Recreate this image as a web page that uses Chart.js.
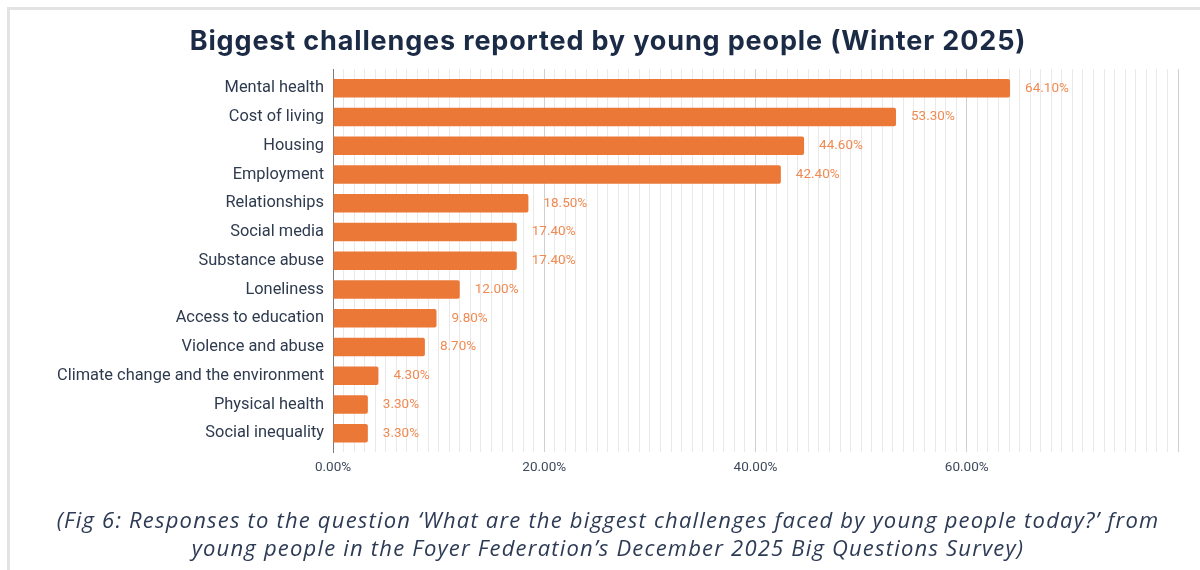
<!DOCTYPE html>
<html lang="en">

<head>
  <meta charset="UTF-8">
  <title>Biggest challenges reported by young people (Winter 2025)</title>
  <script src="https://cdn.jsdelivr.net/npm/chart.js"></script>
  <style>
    html,
    body {
      margin: 0;
      padding: 0;
      width: 1200px;
      height: 570px;
      overflow: hidden;
      background: #fff;
    }

    .frame {
      position: absolute;
      left: 7px;
      top: 7px;
      width: 1300px;
      height: 700px;
      border: 3px solid #e3e3e3;
    }

    .title {
      position: absolute;
      left: 0;
      width: 1216px;
      top: 23px;
      text-align: center;
      font-family: "Inter", sans-serif;
      font-weight: 700;
      font-size: 27px;
      letter-spacing: 0.85px;
      color: #1b2a45;
      line-height: 36px;
    }

    .caption {
      position: absolute;
      left: 0;
      width: 1216px;
      top: 505px;
      text-align: center;
      font-family: "Open Sans", sans-serif;
      font-style: italic;
      font-size: 22px;
      letter-spacing: 1.2px;
      line-height: 28px;
      color: #2d3b55;
    }

    #chartBox {
      position: absolute;
      left: 0;
      top: 0;
      width: 1200px;
      height: 570px;
    }
  </style>
</head>

<body>
  <div class="frame"></div>
  <div id="chartBox">
    <canvas id="challengesChart" width="1200" height="570"></canvas>
  </div>
  <div class="title">Biggest challenges reported by young people (Winter 2025)</div>
  <div class="caption">(Fig 6: Responses to the question ‘What are the biggest challenges faced by young people today?’ from<br>young people in the Foyer Federation’s December 2025 Big Questions Survey)</div>

  <script>
    // Survey answers, share of respondents (%)
    const challenges = [
      'Mental health',
      'Cost of living',
      'Housing',
      'Employment',
      'Relationships',
      'Social media',
      'Substance abuse',
      'Loneliness',
      'Access to education',
      'Violence and abuse',
      'Climate change and the environment',
      'Physical health',
      'Social inequality'
    ];
    const shares = [64.1, 53.3, 44.6, 42.4, 18.5, 17.4, 17.4, 12.0, 9.8, 8.7, 4.3, 3.3, 3.3];

    // x axis: gridline every 1%, labels every 20%
    const axisMax = 80;
    const labelStep = 20;

    const barColor = '#ec7838';
    const valueColor = '#f08a52';

    // Percent labels just past the end of each bar
    const valueLabels = {
      id: 'valueLabels',
      afterDatasetsDraw(chart) {
        const ctx = chart.ctx;
        const meta = chart.getDatasetMeta(0);
        ctx.save();
        ctx.font = '13.5px Roboto';
        ctx.fillStyle = valueColor;
        ctx.textAlign = 'left';
        ctx.textBaseline = 'middle';
        meta.data.forEach((bar, i) => {
          ctx.fillText(shares[i].toFixed(2) + '%', bar.x + 15, bar.y);
        });
        ctx.restore();
      }
    };

    const ctx = document.getElementById('challengesChart').getContext('2d');
    new Chart(ctx, {
      type: 'bar',
      data: {
        labels: challenges,
        datasets: [{
          data: shares,
          backgroundColor: barColor,
          borderRadius: 2,
          barPercentage: 0.64,
          categoryPercentage: 1
        }]
      },
      options: {
        indexAxis: 'y',
        responsive: false,
        animation: false,
        layout: {
          padding: { top: 69, right: 22, bottom: 88, left: 0 }
        },
        plugins: {
          legend: { display: false },
          tooltip: { enabled: false }
        },
        scales: {
          x: {
            min: 0,
            max: axisMax,
            afterFit: (scale) => { scale.height = 30; },
            border: { display: false },
            grid: {
              drawTicks: false,
              color: (c) => (c.tick && c.tick.value % labelStep === 0) ? '#d0d0d0' : '#e9e9e9',
              lineWidth: 1
            },
            ticks: {
              stepSize: 1,
              autoSkip: false,
              maxRotation: 0,
              padding: 8,
              color: '#3d4a5c',
              font: { family: 'Roboto', size: 13.5 },
              callback: (v) => (v % labelStep === 0 && v < axisMax) ? v.toFixed(2) + '%' : ''
            }
          },
          y: {
            afterFit: (scale) => { scale.width = 333; },
            // a little extra room above the first and below the last row
            afterBuildTicks: (scale) => {
              scale._startValue -= 0.17;
              scale._valueRange += 0.32;
            },
            border: { display: true, color: '#7a7a7a', width: 1 },
            grid: { display: false, drawTicks: false },
            ticks: {
              padding: 9,
              color: '#2e3a4e',
              font: { family: 'Roboto', size: 16.4 }
            }
          }
        }
      },
      plugins: [valueLabels]
    });
  </script>
</body>

</html>
